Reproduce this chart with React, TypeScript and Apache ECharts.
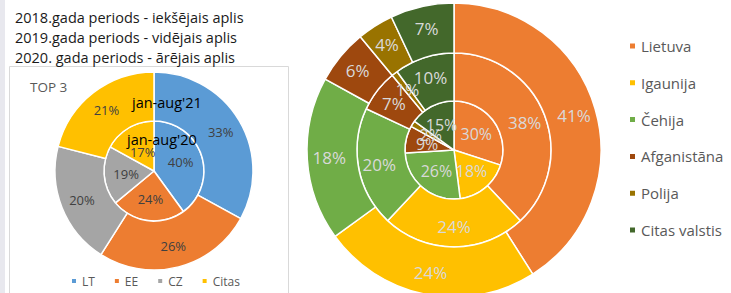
import React, { useEffect, useRef } from "react";
import * as echarts from "echarts";

// Left chart (TOP 3)
const topCategories = ["LT", "EE", "CZ", "Citas"];
const topColors = ["#5B9BD5", "#ED7D31", "#A5A5A5", "#FFC000"];
const top2020 = [40, 24, 19, 17]; // jan-aug'20 (inner)
const top2021 = [33, 26, 20, 21]; // jan-aug'21 (outer)

// Right chart
const countries = ["Lietuva", "Igaunija", "Čehija", "Afganistāna", "Polija", "Citas valstis"];
const countryColors = ["#ED7D31", "#FFC000", "#70AD47", "#9E480E", "#997300", "#43682B"];
const values2018 = [30, 18, 26, 9, 2, 15]; // inner
const values2019 = [38, 24, 20, 7, 1, 10]; // middle
const values2020 = [41, 24, 18, 6, 4, 7]; // outer

const titleLines = [
  "2018.gada periods - iekšējais aplis",
  "2019.gada periods - vidējais aplis",
  "2020. gada periods - ārējais aplis",
];

const FONT = "Open Sans";

export default function App() {
  const ref = useRef<HTMLDivElement>(null);
  useEffect(() => {
    document.body.style.margin = "0";
    const chart = echarts.init(ref.current!, undefined, { renderer: "svg" });
    const mk = (names: string[], vals: number[], cols: string[]) =>
      names.map((n, i) => ({ name: n, value: vals[i], itemStyle: { color: cols[i] } }));

    const leftLabel = {
      show: true,
      position: "inside",
      formatter: "{c}%",
      color: "#404040",
      fontSize: 13,
      fontFamily: FONT,
    };
    const rightLabel = (size: number) => ({
      show: true,
      position: "inside",
      formatter: "{c}%",
      color: "#d9d9d9",
      fontSize: size,
      fontFamily: FONT,
    });
    const base = {
      type: "pie",
      startAngle: 90,
      clockwise: true,
      avoidLabelOverlap: false,
      minShowLabelAngle: 0,
      labelLayout: { hideOverlap: false },
      labelLine: { show: false },
      emphasis: { disabled: true },
      itemStyle: { borderColor: "#ffffff", borderWidth: 1.5 },
    };

    chart.setOption({
      animation: false,
      graphic: [
        { type: "rect", shape: { x: 0, y: 0, width: 5, height: 293 }, style: { fill: "#e8e8ee" }, z: 0 },
        {
          type: "rect",
          shape: { x: 9.5, y: 66.5, width: 279, height: 240 },
          style: { fill: "#ffffff", stroke: "#d9d9d9", lineWidth: 1 },
          z: 0,
        },
        ...titleLines.map((t, i) => ({
          type: "text",
          x: 15,
          y: 17 + i * 20,
          style: { text: t, fill: "#1a1a1a", fontSize: 14.5, fontFamily: FONT, textVerticalAlign: "middle" },
          z: 5,
        })),
        {
          type: "text",
          x: 30,
          y: 87,
          style: { text: "TOP 3", fill: "#595959", fontSize: 13.5, fontFamily: FONT, textVerticalAlign: "middle" },
          z: 5,
        },
        {
          type: "text",
          x: 132,
          y: 102,
          style: { text: "jan-aug'21", fill: "#000000", fontSize: 14.5, fontFamily: FONT, textVerticalAlign: "middle" },
          z: 100,
        },
        {
          type: "text",
          x: 127,
          y: 139,
          style: { text: "jan-aug'20", fill: "#000000", fontSize: 14.5, fontFamily: FONT, textVerticalAlign: "middle" },
          z: 100,
        },
      ],
      legend: [
        {
          data: topCategories,
          orient: "horizontal",
          left: 65,
          top: 270,
          icon: "rect",
          itemWidth: 6,
          itemHeight: 6,
          itemGap: 18,
          selectedMode: false,
          textStyle: { color: "#595959", fontSize: 12, fontFamily: FONT, padding: [0, 0, 0, 0] },
        },
        {
          data: countries,
          orient: "vertical",
          left: 623,
          top: 33,
          icon: "rect",
          itemWidth: 7,
          itemHeight: 7,
          itemGap: 20.8,
          selectedMode: false,
          textStyle: { color: "#595959", fontSize: 15, fontFamily: FONT, lineHeight: 16 },
        },
      ],
      series: [
        {
          ...base,
          name: "jan-aug'20",
          center: [154, 171],
          radius: [0, 50],
          data: mk(topCategories, top2020, topColors),
          label: leftLabel,
          labelLayout: (p: any) => (p.dataIndex === 3 ? { dx: 3, dy: 5, hideOverlap: false } : { hideOverlap: false }),
        },
        { ...base, name: "jan-aug'21", center: [154, 171], radius: [50, 99], data: mk(topCategories, top2021, topColors), label: leftLabel },
        { ...base, name: "2018", center: [454, 150], radius: [0, 49], data: mk(countries, values2018, countryColors), label: rightLabel(16) },
        { ...base, name: "2019", center: [454, 150], radius: [49, 97], data: mk(countries, values2019, countryColors), label: rightLabel(17) },
        { ...base, name: "2020", center: [454, 150], radius: [97, 147], data: mk(countries, values2020, countryColors), label: rightLabel(17) },
      ],
    });
    return () => chart.dispose();
  }, []);
  return <div ref={ref} style={{ width: 731, height: 293 }} />;
}
